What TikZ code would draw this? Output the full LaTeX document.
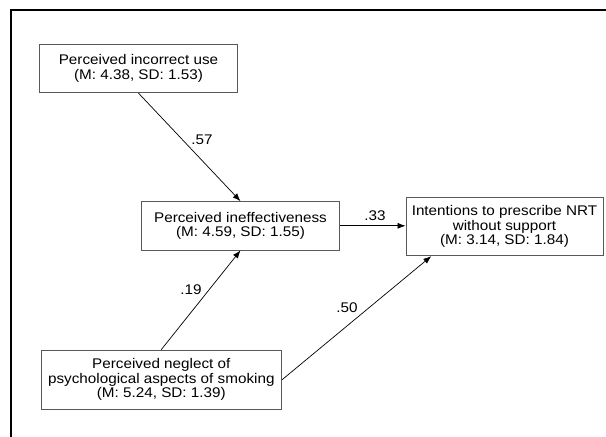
\documentclass[tikz,border=0pt]{standalone}
\usepackage{fontspec}
\setmainfont{Liberation Sans}[FakeStretch=1.09]
\usetikzlibrary{arrows.meta,calc}
\begin{document}
\begin{tikzpicture}[x=1pt,y=-1pt,
  box/.style={draw=black!65, line width=0.9pt, align=center, inner sep=0pt, font=\fontsize{14}{14.5}\selectfont},
  conn/.style={-{Latex[length=8pt,width=6pt]}, line width=0.7pt},
  lab/.style={font=\fontsize{14}{14.5}\selectfont, inner sep=0pt}]
\useasboundingbox (0,0) rectangle (606,437);
\draw[line width=2pt] (11,437) -- (11,10.3) -- (606,10.3);
\node[box, minimum width=198pt, minimum height=48.4pt] (b1) at (138.5,68.5) {Perceived incorrect use\\(M: 4.38, SD: 1.53)};
\node[box, minimum width=197.6pt, minimum height=48.3pt] (b2) at (240.5,225.8) {Perceived ineffectiveness\\(M: 4.59, SD: 1.55)};
\node[box, minimum width=197pt, minimum height=58.4pt] (b3) at (504.5,226.5) {Intentions to prescribe NRT\\without support\\(M: 3.14, SD: 1.84)};
\node[box, minimum width=240.7pt, minimum height=59.3pt] (b4) at (161.3,379.7) {Perceived neglect of\\psychological aspects of smoking\\(M: 5.24, SD: 1.39)};
\coordinate (b3in) at ($(b3.south west)!0.13!(b3.south east)$);
\draw[conn] (b1.south) -- (b2.north);
\draw[conn] (b4.north) -- (b2.south);
\draw[conn] (b2.east) -- (b2.east -| b3.west);
\draw[conn] (b4.east) -- (b3in);
\node[lab] (l57) at (202,140) {.57};
\node[lab] (l33) at (375,216) {.33};
\node[lab] (l19) at (191,290) {.19};
\node[lab] (l50) at (347,308) {.50};
\end{tikzpicture}
\end{document}
